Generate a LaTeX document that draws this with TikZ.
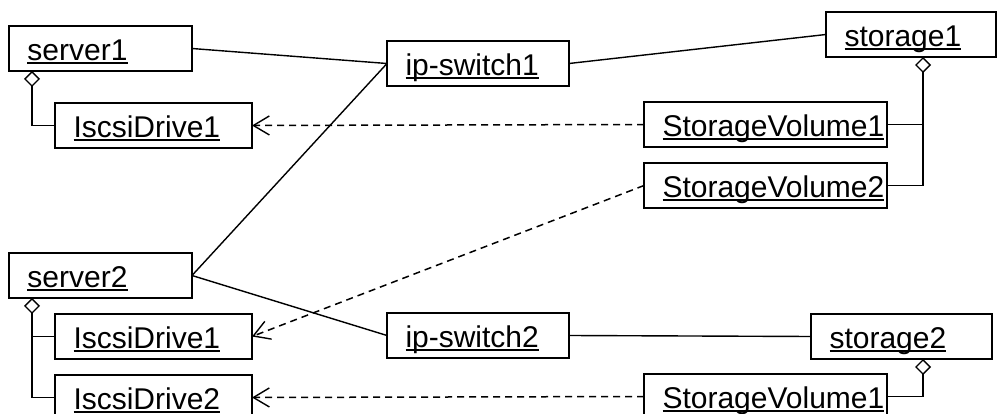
\documentclass[tikz,border=0pt]{standalone}
\usepackage{fontspec}
\setmainfont{Liberation Sans}
\usetikzlibrary{arrows.meta}
\newsavebox\ulbox
\newcommand\ulx[1]{\sbox\ulbox{#1}\rlap{\rule[-3.5pt]{\wd\ulbox}{2pt}}\usebox\ulbox}
\newcommand\boxtxt[2]{\makebox[#1][l]{\rule[-10.5pt]{0pt}{45pt}\hspace{18.5pt}\ulx{#2}}}
\tikzset{
  obj/.style={draw, line width=1.4pt, inner sep=0pt, outer sep=0pt, anchor=north west,
    font=\fontsize{30pt}{36pt}\selectfont},
  link/.style={line width=1.4pt},
  comp/.style={line width=1.4pt},
  diam/.style={{Diamond[open,length=16pt,width=16pt,line width=1.4pt]}-},
  dep/.style={line width=1.5pt, dash pattern=on 7pt off 5pt,
    -{Straight Barb[length=16pt,width=19pt,line width=1.4pt]}}
}
\begin{document}
\begin{tikzpicture}[x=1pt,y=-1pt]
\fill[white] (0,0) rectangle (997,414);
\useasboundingbox (0,0) rectangle (997,414);
% objects
\node[obj] (s1)   at (9,26)    {\boxtxt{183pt}{server1}};
\node[obj] (d11)  at (55,103)  {\boxtxt{197pt}{IscsiDrive1}};
\node[obj] (sw1)  at (387,41)  {\boxtxt{182pt}{ip-switch1}};
\node[obj] (st1)  at (826,12)  {\boxtxt{170pt}{storage1}};
\node[obj] (sv11) at (644,102) {\boxtxt{243pt}{StorageVolume1}};
\node[obj] (sv12) at (644,163) {\boxtxt{243pt}{StorageVolume2}};
\node[obj] (s2)   at (9,253)   {\boxtxt{183pt}{server2}};
\node[obj] (d21)  at (55,314)  {\boxtxt{197pt}{IscsiDrive1}};
\node[obj] (d22)  at (55,375)  {\boxtxt{197pt}{IscsiDrive2}};
\node[obj] (sw2)  at (387,313) {\boxtxt{182pt}{ip-switch2}};
\node[obj] (st2)  at (811,314) {\boxtxt{181pt}{storage2}};
\node[obj] (sv21) at (644,374) {\boxtxt{243pt}{StorageVolume1}};
% links
\draw[link] (s1.east) -- (sw1.west);
\draw[link] (sw1.east) -- (st1.west);
\draw[link] (s2.east) -- (sw1.west);
\draw[link] (s2.east) -- (sw2.west);
\draw[link] (sw2.east) -- (st2.west);
% composition
\draw[comp,diam] ([xshift=23pt]s1.south west) |- (d11.west);
\draw[comp,diam] ([xshift=23pt]s2.south west) |- (d21.west);
\draw[comp] ([xshift=23pt,yshift=-16pt]s2.south west) |- (d22.west);
\draw[comp,diam] ([xshift=97pt]st1.south west) |- (sv11.east);
\draw[comp] ([xshift=97pt,yshift=-16pt]st1.south west) |- (sv12.east);
\draw[comp,diam] ([xshift=112pt]st2.south west) |- (sv21.east);
% dependencies
\draw[dep] (sv11.west) -- (d11.east);
\draw[dep] (sv12.west) -- (d21.east);
\draw[dep] (sv21.west) -- (d22.east);
\end{tikzpicture}
\end{document}
